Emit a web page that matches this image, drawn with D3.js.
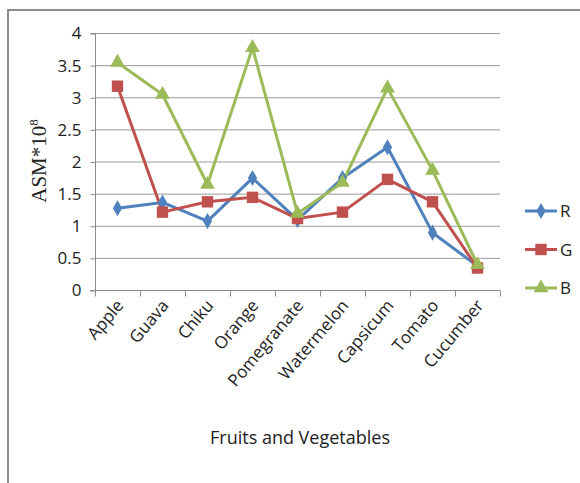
<!DOCTYPE html>
<meta charset="utf-8">
<style>
body { margin: 0; background: #fff; }
text { font-family: "Liberation Sans Narrow", "Open Sans", sans-serif; fill: #222; }
</style>
<svg></svg>
<script src="https://d3js.org/d3.v7.min.js"></script>
<script>

// data
var fruits = ["Apple", "Guava", "Chiku", "Orange", "Pomegranate", "Watermelon", "Capsicum", "Tomato", "Cucumber"]
var rVals = [1.28, 1.37, 1.08, 1.75, 1.10, 1.75, 2.23, 0.90, 0.38]
var gVals = [3.18, 1.22, 1.38, 1.45, 1.12, 1.22, 1.73, 1.38, 0.35]
var bVals = [3.55, 3.05, 1.65, 3.78, 1.20, 1.68, 3.15, 1.87, 0.40]
var yTicks = [0, 0.5, 1, 1.5, 2, 2.5, 3, 3.5, 4]

var series = [
  {name: "R", values: rVals, color: "#4F81BD", shape: d3.symbolDiamond, size: 75},
  {name: "G", values: gVals, color: "#C0504D", shape: d3.symbolSquare, size: 130},
  {name: "B", values: bVals, color: "#9BBB59", shape: d3.symbolTriangle, size: 95}
]

var width = 580, height = 483
var svg = d3.select("svg").attr("width", width).attr("height", height)

// outer frame (only top and left edges visible)
svg.append("path")
  .attr("d", "M8,483 L8,10 L580,10")
  .attr("fill", "none").attr("stroke", "#8c8c8c").attr("stroke-width", 2)

var x = d3.scaleBand().domain(fruits).range([95, 500])
var y = d3.scaleLinear().domain([0, 4]).range([290.5, 33.5])

// gridlines
svg.append("g").selectAll("line")
  .data(yTicks.slice(1))
  .enter().append("line")
    .attr("x1", 95).attr("x2", 500)
    .attr("y1", function(d) { return y(d); })
    .attr("y2", function(d) { return y(d); })
    .attr("stroke", "#9a9a9a").attr("stroke-width", 1)

// y axis
var yAxis = svg.append("g")
  .attr("transform", "translate(95.5,0)")
  .call(d3.axisLeft(y).tickValues(yTicks).tickSize(5).tickPadding(9)
    .tickFormat(function(d) { return d; }))
yAxis.selectAll("path, line").attr("stroke", "#8c8c8c")
yAxis.selectAll("text").style("font-size", "17px").attr("fill", "#222")
yAxis.select(".domain").attr("d", "M-5,33.5H0V290.5H-5")

// x axis
var xAxis = svg.append("g")
  .attr("transform", "translate(0,290.5)")
  .call(d3.axisBottom(x).tickSize(0).tickFormat(""))
xAxis.select(".domain").attr("stroke", "#8c8c8c").attr("d", "M90,0H500")
xAxis.selectAll("line.tk")
  .data(d3.range(fruits.length + 1))
  .enter().append("line")
    .attr("class", "tk")
    .attr("x1", function(i) { return 95.5 + i * x.bandwidth(); })
    .attr("x2", function(i) { return 95.5 + i * x.bandwidth(); })
    .attr("y1", 0).attr("y2", 6)
    .attr("stroke", "#8c8c8c")

svg.append("g").selectAll("text")
  .data(fruits)
  .enter().append("text")
    .attr("transform", function(d) {
      return "translate(" + (x(d) + x.bandwidth() / 2 + 7) + ",306) rotate(-50)";
    })
    .attr("text-anchor", "end")
    .style("font-size", "17px")
    .text(function(d) { return d; })

// axis titles
svg.append("text")
  .attr("x", 300).attr("y", 444)
  .attr("text-anchor", "middle")
  .style("font-size", "18px")
  .text("Fruits and Vegetables")

var yt = svg.append("text")
  .attr("transform", "translate(46,161) rotate(-90)")
  .attr("text-anchor", "middle")
  .style("font-family", "'Liberation Serif', 'DejaVu Serif', serif")
  .style("font-size", "21px")
yt.append("tspan").text("ASM*10")
yt.append("tspan").attr("dy", -8).style("font-size", "13px").text("8")

// lines + markers
var line = d3.line()
  .x(function(d, i) { return x(fruits[i]) + x.bandwidth() / 2; })
  .y(function(d) { return y(d); })

series.forEach(function(s) {
  svg.append("path")
    .datum(s.values)
    .attr("fill", "none")
    .attr("stroke", s.color)
    .attr("stroke-width", 3)
    .attr("stroke-linejoin", "round")
    .attr("d", line)
})

series.forEach(function(s) {
  svg.append("g").selectAll("path")
    .data(s.values)
    .enter().append("path")
      .attr("d", d3.symbol().type(s.shape).size(s.size))
      .attr("transform", function(d, i) {
        return "translate(" + (x(fruits[i]) + x.bandwidth() / 2) + "," + y(d) + ")";
      })
      .attr("fill", s.color)
})

// legend
var legend = svg.append("g").selectAll("g")
  .data(series)
  .enter().append("g")
    .attr("transform", function(d, i) { return "translate(525," + (211 + i * 38.5) + ")"; })
legend.append("line")
  .attr("x1", 0).attr("x2", 32)
  .attr("stroke", function(d) { return d.color; })
  .attr("stroke-width", 3)
legend.append("path")
  .attr("transform", "translate(16,0)")
  .attr("d", function(d) { return d3.symbol().type(d.shape).size(d.size)(); })
  .attr("fill", function(d) { return d.color; })
legend.append("text")
  .attr("x", 35).attr("y", 6)
  .style("font-size", "17px")
  .text(function(d) { return d.name; })

</script>
